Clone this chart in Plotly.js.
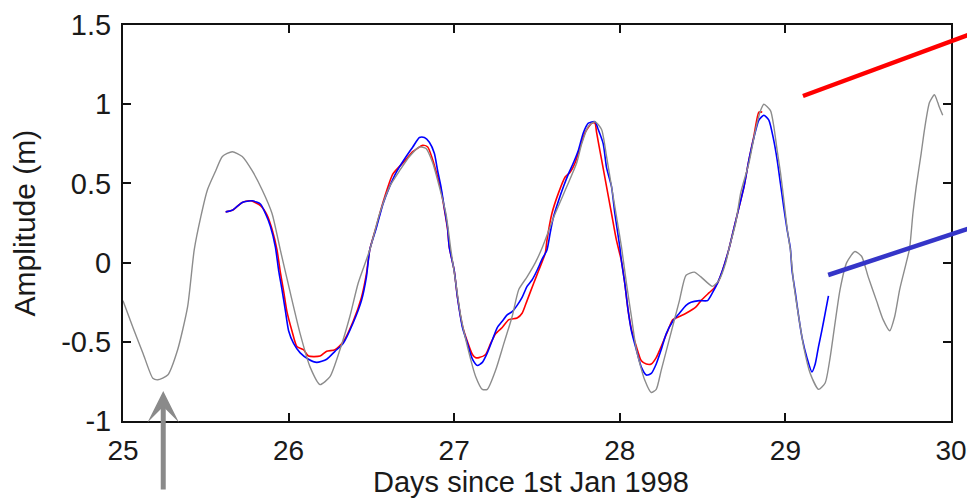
<!DOCTYPE html>
<html>
<head>
<meta charset="utf-8">
<script src="https://cdn.plot.ly/plotly-3.0.1.min.js"></script>
<style>
  html, body { margin: 0; padding: 0; background: #fff; }
  #chart { width: 967px; height: 501px; }
</style>
</head>
<body>
<div id="chart"></div>
<script>
// Modelled tide (grey), days since 1 Jan 1998
const modelDays = [25.00,25.06,25.12,25.18,25.21,25.27,25.33,25.39,25.43,25.47,25.51,25.56,25.60,25.66,25.72,25.78,25.84,25.90,25.95,
  26.01,26.07,26.13,26.19,26.25,26.31,26.37,26.42,26.49,26.55,26.61,26.67,26.73,26.79,26.83,26.87,26.91,26.95,26.98,
  27.01,27.04,27.08,27.13,27.17,27.20,27.25,27.30,27.35,27.39,27.44,27.49,27.53,27.61,27.68,27.74,27.77,27.81,27.85,27.89,27.92,27.95,27.98,
  28.01,28.04,28.07,28.10,28.15,28.19,28.22,28.25,28.30,28.36,28.40,28.45,28.49,28.56,28.60,28.64,28.66,28.70,28.73,28.78,28.82,28.85,28.87,28.91,28.93,28.95,28.97,28.99,
  29.01,29.03,29.05,29.08,29.11,29.15,29.20,29.24,29.27,29.30,29.33,29.37,29.42,29.46,29.50,29.55,29.59,29.63,29.66,29.69,29.73,29.75,29.77,29.79,29.82,29.84,29.87,29.90,29.92,29.93,29.95];
const modelAmp = [-0.24,-0.41,-0.57,-0.73,-0.74,-0.71,-0.55,-0.28,0.08,0.29,0.46,0.58,0.67,0.70,0.67,0.58,0.46,0.31,0.08,
  -0.19,-0.45,-0.66,-0.77,-0.72,-0.55,-0.34,-0.13,0.08,0.31,0.48,0.58,0.67,0.73,0.72,0.63,0.48,0.31,0.08,
  -0.13,-0.34,-0.53,-0.72,-0.80,-0.80,-0.68,-0.51,-0.34,-0.17,-0.09,0.00,0.09,0.31,0.48,0.63,0.75,0.86,0.89,0.84,0.67,0.48,0.29,
  0.10,-0.13,-0.34,-0.55,-0.74,-0.82,-0.80,-0.68,-0.48,-0.24,-0.08,-0.06,-0.09,-0.15,-0.11,0.00,0.09,0.25,0.44,0.63,0.84,0.96,1.00,0.96,0.86,0.71,0.57,0.40,
  0.22,0.08,-0.13,-0.34,-0.53,-0.70,-0.80,-0.76,-0.60,-0.38,-0.17,0.00,0.07,0.04,-0.09,-0.24,-0.36,-0.43,-0.34,-0.17,0.00,0.09,0.31,0.48,0.69,0.84,1.01,1.06,1.01,0.98,0.93];

// Observed record, first processing (red)
const redDays = [25.62,25.66,25.72,25.77,25.83,25.87,25.90,25.93,25.95,25.97,25.99,26.02,26.05,26.09,26.12,26.19,26.23,26.28,26.33,26.39,26.44,26.47,26.49,26.53,26.57,26.63,26.70,26.75,26.81,26.84,26.87,26.90,26.92,26.94,26.96,26.97,
  27.00,27.02,27.05,27.08,27.11,27.13,27.15,27.19,27.22,27.25,27.29,27.33,27.38,27.41,27.44,27.48,27.51,27.55,27.56,27.59,27.63,27.67,27.70,27.73,27.79,27.83,27.85,27.86,27.89,27.92,27.95,27.98,
  28.01,28.03,28.05,28.07,28.10,28.13,28.16,28.19,28.22,28.25,28.29,28.32,28.36,28.40,28.46,28.49,28.54,28.57,28.59,28.62,28.66,28.69,28.72,28.75,28.78,28.81,28.84,28.86];
const redAmp = [0.32,0.33,0.38,0.39,0.36,0.30,0.21,0.08,-0.06,-0.18,-0.31,-0.43,-0.53,-0.55,-0.59,-0.59,-0.56,-0.55,-0.50,-0.37,-0.22,-0.07,0.08,0.23,0.38,0.56,0.64,0.70,0.74,0.73,0.65,0.54,0.46,0.34,0.21,0.10,
  -0.05,-0.22,-0.40,-0.50,-0.58,-0.60,-0.60,-0.58,-0.51,-0.45,-0.41,-0.36,-0.35,-0.32,-0.24,-0.13,-0.05,0.06,0.14,0.31,0.44,0.54,0.57,0.63,0.82,0.88,0.88,0.82,0.65,0.48,0.31,0.14,
  0.01,-0.13,-0.30,-0.42,-0.53,-0.62,-0.64,-0.64,-0.60,-0.53,-0.43,-0.36,-0.34,-0.32,-0.28,-0.24,-0.19,-0.16,-0.13,-0.05,0.09,0.22,0.35,0.48,0.65,0.80,0.95,0.95];

// Observed record, second processing (blue)
const blueDays = [25.62,25.66,25.72,25.78,25.83,25.86,25.89,25.92,25.94,25.96,25.98,26.00,26.03,26.07,26.12,26.17,26.23,26.28,26.33,26.39,26.44,26.47,26.49,26.53,26.57,26.61,26.65,26.71,26.75,26.79,26.82,26.85,26.88,26.90,26.92,26.94,26.96,26.97,
  27.00,27.02,27.05,27.08,27.11,27.14,27.17,27.20,27.23,27.26,27.29,27.32,27.35,27.38,27.41,27.44,27.47,27.50,27.53,27.56,27.58,27.60,27.63,27.66,27.69,27.72,27.75,27.78,27.81,27.85,27.87,27.90,27.92,27.95,27.97,
  28.00,28.01,28.03,28.05,28.07,28.10,28.13,28.16,28.19,28.22,28.25,28.28,28.32,28.36,28.40,28.43,28.48,28.53,28.56,28.59,28.62,28.66,28.69,28.72,28.75,28.78,28.81,28.84,28.87,28.90,28.93,28.95,28.97,28.99,
  29.01,29.03,29.04,29.06,29.08,29.10,29.13,29.16,29.18,29.20,29.22,29.24,29.26];
const blueAmp = [0.32,0.33,0.38,0.39,0.37,0.31,0.23,0.10,-0.05,-0.17,-0.30,-0.43,-0.51,-0.57,-0.61,-0.63,-0.61,-0.56,-0.51,-0.38,-0.24,-0.09,0.08,0.22,0.37,0.48,0.57,0.67,0.73,0.79,0.79,0.76,0.69,0.58,0.48,0.35,0.22,0.10,
  -0.05,-0.22,-0.41,-0.51,-0.61,-0.65,-0.63,-0.57,-0.49,-0.41,-0.37,-0.33,-0.31,-0.27,-0.22,-0.15,-0.11,-0.05,0.02,0.08,0.19,0.29,0.39,0.48,0.56,0.63,0.71,0.82,0.88,0.89,0.84,0.75,0.60,0.48,0.31,
  0.10,0.01,-0.13,-0.30,-0.43,-0.55,-0.66,-0.71,-0.70,-0.64,-0.55,-0.45,-0.37,-0.32,-0.27,-0.25,-0.24,-0.24,-0.19,-0.13,-0.05,0.09,0.22,0.35,0.48,0.65,0.79,0.90,0.93,0.90,0.77,0.65,0.50,0.35,
  0.21,0.09,-0.05,-0.19,-0.34,-0.47,-0.60,-0.69,-0.64,-0.53,-0.43,-0.32,-0.21];

// Axis ticks
const xTicks = [25, 26, 27, 28, 29, 30];
const yTicks = [-1, -0.5, 0, 0.5, 1, 1.5];
const yTickText = ['-1', '-0.5', '0', '0.5', '1', '1.5'];

const FONT = 'Liberation Sans, Arial, Helvetica, sans-serif';

const traces = [
  { x: redDays, y: redAmp, type: 'scatter', mode: 'lines',
    line: { color: '#ff0000', width: 1.6, shape: 'spline', smoothing: 0.6 }, hoverinfo: 'skip' },
  { x: blueDays, y: blueAmp, type: 'scatter', mode: 'lines',
    line: { color: '#0000ff', width: 1.6, shape: 'spline', smoothing: 0.6 }, hoverinfo: 'skip' },
  { x: modelDays, y: modelAmp, type: 'scatter', mode: 'lines',
    line: { color: '#8c8c8c', width: 1.4, shape: 'spline', smoothing: 0.6 }, hoverinfo: 'skip' }
];

const axisCommon = {
  showgrid: false, zeroline: false,
  showline: true, linecolor: '#111', linewidth: 2,
  mirror: 'allticks', ticks: 'inside', ticklen: 8, tickwidth: 2, tickcolor: '#111',
  ticklabeloverflow: 'allow'
};

const layout = {
  width: 967, height: 501,
  margin: { l: 123, r: 16, t: 25, b: 80 },
  paper_bgcolor: '#ffffff', plot_bgcolor: '#ffffff',
  showlegend: false,
  xaxis: Object.assign({}, axisCommon, {
    range: [25, 30], tickmode: 'array', tickvals: xTicks,
    tickfont: { family: FONT, size: 28, color: '#1a1a1a' },
    ticklabelstandoff: 3
  }),
  yaxis: Object.assign({}, axisCommon, {
    range: [-1, 1.5], tickmode: 'array', tickvals: yTicks, ticktext: yTickText,
    tickfont: { family: FONT, size: 29, color: '#1a1a1a' },
    ticklabelstandoff: 4
  }),
  annotations: [
    { text: 'Days since 1st Jan 1998', xref: 'paper', yref: 'paper',
      x: 0.493, y: -0.154, xanchor: 'center', yanchor: 'middle', showarrow: false,
      font: { family: FONT, size: 29, color: '#1a1a1a' } },
    { text: 'Amplitude (m)', xref: 'paper', yref: 'paper', textangle: -90,
      x: -0.119, y: 0.5, xanchor: 'center', yanchor: 'middle', showarrow: false,
      font: { family: FONT, size: 30, color: '#1a1a1a' } },
    // grey arrow pointing up at the first modelled low water
    { text: '', xref: 'x', yref: 'y', x: 25.243, y: -0.81,
      ax: 0, ay: 100, showarrow: true, arrowhead: 3, arrowsize: 1.05,
      arrowwidth: 5, arrowcolor: '#8a8a8a', standoff: 0 }
  ],
  shapes: [
    // pointer lines leading off to the right of the axes
    { type: 'line', xref: 'paper', yref: 'paper', x0: 0.8212, y0: 0.8207, x1: 1.03, y1: 0.982,
      line: { color: '#ff0000', width: 4.5 } },
    { type: 'line', xref: 'paper', yref: 'paper', x0: 0.8517, y0: 0.3687, x1: 1.03, y1: 0.492,
      line: { color: '#3535c8', width: 4.5 } }
  ]
};

Plotly.newPlot('chart', traces, layout, { staticPlot: true, displayModeBar: false });
</script>
</body>
</html>
